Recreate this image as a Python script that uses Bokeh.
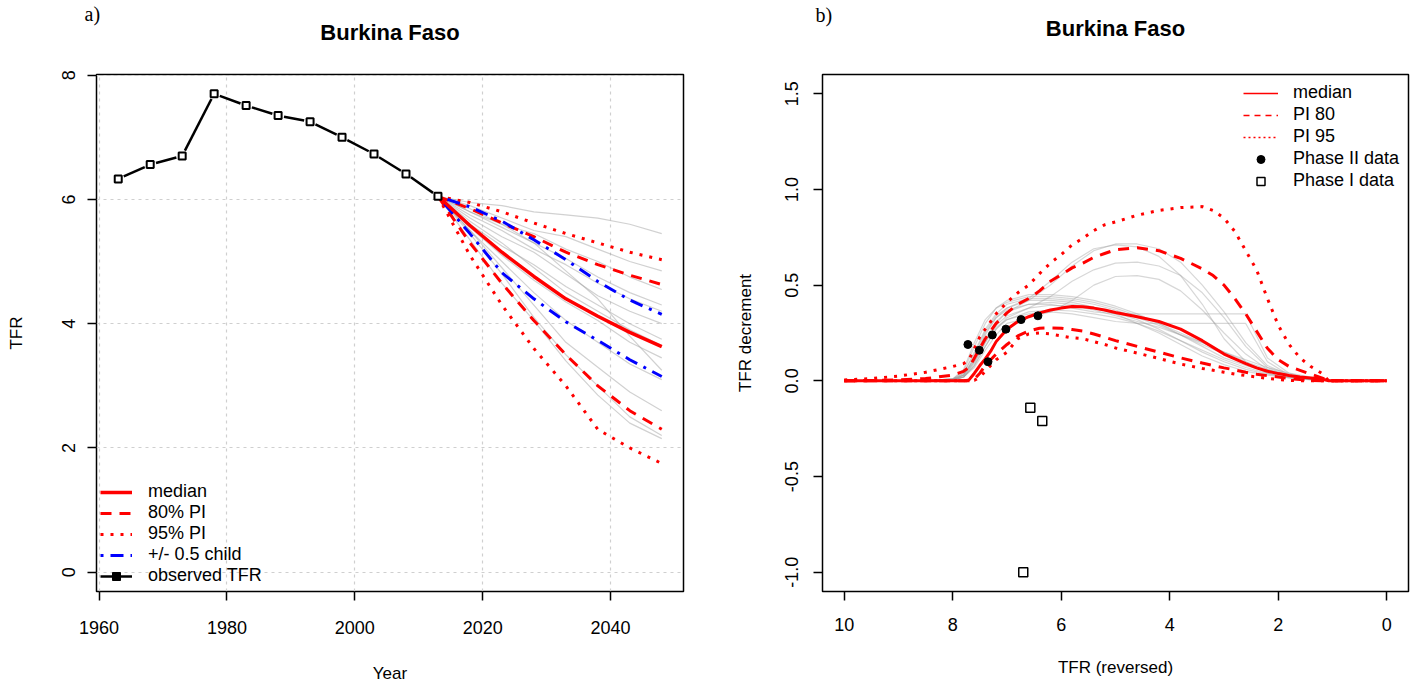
import math
from bokeh.plotting import figure
from bokeh.models import (Range1d, FixedTicker, Legend, LegendItem, Title,
                          NumeralTickFormatter)
from bokeh.layouts import row
from bokeh.embed import file_html
from bokeh.resources import INLINE

# ---------------- data: panel a) ----------------
YEARS_OBS = [1963, 1968, 1973, 1978, 1983, 1988, 1993, 1998, 2003, 2008, 2013]
TFR_OBS = [6.33, 6.56, 6.70, 7.70, 7.51, 7.35, 7.25, 7.00, 6.73, 6.41, 6.05]

YEARS_PROJ = [2013, 2018, 2023, 2028, 2033, 2038, 2043, 2048]
MEDIAN = [6.05, 5.58, 5.15, 4.76, 4.40, 4.12, 3.86, 3.63]
PI80_LOW = [6.05, 5.30, 4.65, 4.05, 3.50, 3.00, 2.60, 2.30]
PI80_HIGH = [6.05, 5.85, 5.62, 5.40, 5.15, 4.95, 4.78, 4.63]
PI95_LOW = [6.05, 5.10, 4.30, 3.60, 3.00, 2.30, 2.00, 1.75]
PI95_HIGH = [6.05, 5.95, 5.80, 5.62, 5.45, 5.30, 5.15, 5.03]
HALF_CHILD_LOW = [6.05, 5.45, 4.82, 4.40, 4.03, 3.73, 3.42, 3.15]
HALF_CHILD_HIGH = [6.05, 5.88, 5.65, 5.35, 5.03, 4.68, 4.38, 4.15]

TRAJECTORIES = [
    [6.05, 5.95, 5.90, 5.80, 5.75, 5.70, 5.60, 5.45],
    [6.05, 5.90, 5.70, 5.50, 5.40, 5.20, 5.00, 4.85],
    [6.05, 5.85, 5.60, 5.45, 5.20, 5.00, 4.75, 4.55],
    [6.05, 5.80, 5.55, 5.30, 5.05, 4.75, 4.50, 4.30],
    [6.05, 5.75, 5.50, 5.20, 4.95, 4.65, 4.40, 4.20],
    [6.05, 5.70, 5.40, 5.15, 4.80, 4.45, 4.20, 4.00],
    [6.05, 5.60, 5.25, 4.95, 4.60, 4.30, 4.00, 3.75],
    [6.05, 5.65, 5.30, 4.90, 4.50, 4.20, 3.90, 3.65],
    [6.05, 5.55, 5.10, 4.70, 4.35, 4.05, 3.70, 3.45],
    [6.05, 5.50, 5.00, 4.50, 4.05, 3.70, 3.35, 3.10],
    [6.05, 5.50, 4.90, 4.30, 3.70, 3.30, 2.90, 2.60],
    [6.05, 5.45, 4.80, 4.10, 3.50, 3.00, 2.50, 2.20],
    [6.05, 5.35, 4.65, 4.05, 3.40, 2.85, 2.40, 2.15],
    [6.05, 5.80, 5.60, 5.30, 4.85, 4.40, 3.80, 3.25],
]

# ---------------- data: panel b) ----------------
TFR_GRID = [10.0, 9.5, 9.0, 8.5, 8.0, 7.8, 7.7, 7.6, 7.5, 7.4, 7.3, 7.2, 7.0,
            6.8, 6.6, 6.4, 6.2, 6.0, 5.8, 5.6, 5.4, 5.2, 5.0, 4.6, 4.2, 3.8,
            3.4, 3.2, 3.0, 2.8, 2.6, 2.4, 2.2, 2.0, 1.8, 1.6, 1.4, 1.2, 1.07,
            1.0, 0.5, 0.0]
DEC_MEDIAN = [0, 0, 0, 0, 0, 0, 0.005, 0.04, 0.08, 0.115, 0.155, 0.205, 0.27,
              0.31, 0.335, 0.355, 0.37, 0.38, 0.388, 0.387, 0.38, 0.37, 0.357,
              0.335, 0.31, 0.27, 0.21, 0.175, 0.14, 0.115, 0.09, 0.068, 0.05,
              0.038, 0.028, 0.02, 0.015, 0.01, 0.0, 0, 0, 0]
DEC_PI80_HIGH = [0, 0.002, 0.005, 0.012, 0.03, 0.05, 0.07, 0.12, 0.17, 0.22,
                 0.26, 0.30, 0.355, 0.40, 0.43, 0.47, 0.52, 0.555, 0.59, 0.615,
                 0.645, 0.665, 0.685, 0.695, 0.68, 0.64, 0.585, 0.55, 0.50,
                 0.43, 0.35, 0.26, 0.17, 0.11, 0.075, 0.055, 0.035, 0.016, 0.0,
                 0, 0, 0]
DEC_PI95_HIGH = [0.005, 0.012, 0.025, 0.045, 0.075, 0.09, 0.11, 0.17, 0.23,
                 0.27, 0.31, 0.35, 0.41, 0.46, 0.50, 0.56, 0.615, 0.66, 0.71,
                 0.745, 0.785, 0.815, 0.83, 0.865, 0.89, 0.905, 0.91, 0.89,
                 0.85, 0.78, 0.68, 0.58, 0.43, 0.29, 0.19, 0.12, 0.075, 0.04,
                 0.0, 0, 0, 0]
DEC_PI80_LOW = [0, 0, 0, 0, 0, 0, 0, 0.01, 0.04, 0.08, 0.11, 0.14, 0.19, 0.235,
                0.26, 0.275, 0.277, 0.275, 0.268, 0.26, 0.245, 0.228, 0.21,
                0.18, 0.15, 0.12, 0.093, 0.08, 0.068, 0.057, 0.045, 0.035,
                0.027, 0.02, 0.012, 0.007, 0.003, 0.0, 0, 0, 0, 0]
DEC_PI95_LOW = [0, 0, 0, 0, 0, 0, 0, 0.003, 0.02, 0.05, 0.08, 0.11, 0.15, 0.22,
                0.245, 0.25, 0.245, 0.235, 0.225, 0.22, 0.205, 0.19, 0.172,
                0.145, 0.117, 0.088, 0.065, 0.055, 0.045, 0.035, 0.028, 0.02,
                0.013, 0.007, 0.003, 0.0, 0, 0, 0, 0, 0, 0]

GRAY_GRID = [10.0, 8.5, 8.0, 7.8, 7.6, 7.4, 7.2, 7.0, 6.6, 6.2, 5.8, 5.4, 5.0,
             4.6, 4.2, 3.8, 3.4, 3.0, 2.6, 2.2, 1.8, 1.4, 1.1, 1.0]
DEC_TRAJECTORIES = [
    [0, 0, 0.01, 0.03, 0.10, 0.20, 0.30, 0.36, 0.42, 0.50, 0.60, 0.68, 0.715, 0.715, 0.69, 0.62, 0.50, 0.36, 0.20, 0.08, 0.03, 0.01, 0.005, 0],
    [0, 0, 0.01, 0.04, 0.14, 0.26, 0.34, 0.38, 0.43, 0.52, 0.62, 0.69, 0.71, 0.70, 0.65, 0.55, 0.40, 0.22, 0.10, 0.04, 0.015, 0.005, 0.002, 0],
    [0, 0, 0.005, 0.02, 0.08, 0.18, 0.27, 0.33, 0.38, 0.44, 0.52, 0.58, 0.615, 0.62, 0.60, 0.55, 0.46, 0.33, 0.18, 0.07, 0.025, 0.01, 0.004, 0],
    [0, 0, 0.005, 0.02, 0.07, 0.16, 0.24, 0.30, 0.33, 0.36, 0.42, 0.50, 0.545, 0.55, 0.53, 0.47, 0.37, 0.25, 0.14, 0.06, 0.02, 0.008, 0.003, 0],
    [0, 0, 0.01, 0.05, 0.18, 0.30, 0.38, 0.42, 0.45, 0.45, 0.44, 0.42, 0.39, 0.35, 0.30, 0.24, 0.18, 0.12, 0.08, 0.05, 0.03, 0.015, 0.005, 0],
    [0, 0, 0.008, 0.04, 0.15, 0.27, 0.35, 0.40, 0.43, 0.43, 0.42, 0.40, 0.37, 0.33, 0.29, 0.24, 0.19, 0.14, 0.09, 0.055, 0.03, 0.015, 0.005, 0],
    [0, 0, 0.006, 0.03, 0.12, 0.24, 0.33, 0.38, 0.42, 0.42, 0.41, 0.385, 0.355, 0.32, 0.27, 0.21, 0.15, 0.10, 0.06, 0.035, 0.02, 0.01, 0.004, 0],
    [0, 0, 0.005, 0.03, 0.11, 0.22, 0.31, 0.36, 0.40, 0.41, 0.40, 0.38, 0.35, 0.30, 0.25, 0.19, 0.13, 0.085, 0.05, 0.03, 0.015, 0.007, 0.003, 0],
    [0, 0, 0.004, 0.02, 0.09, 0.20, 0.29, 0.34, 0.38, 0.395, 0.39, 0.37, 0.34, 0.31, 0.28, 0.24, 0.20, 0.15, 0.10, 0.06, 0.03, 0.01, 0.004, 0],
    [0, 0, 0.004, 0.02, 0.08, 0.18, 0.27, 0.32, 0.36, 0.37, 0.365, 0.35, 0.33, 0.30, 0.26, 0.21, 0.16, 0.11, 0.07, 0.04, 0.02, 0.008, 0.003, 0],
    [0, 0, 0.006, 0.03, 0.12, 0.25, 0.33, 0.37, 0.40, 0.40, 0.38, 0.36, 0.35, 0.35, 0.35, 0.35, 0.35, 0.35, 0.35, 0.12, 0.04, 0.01, 0.004, 0],
    [0, 0, 0.005, 0.02, 0.10, 0.21, 0.28, 0.32, 0.35, 0.36, 0.35, 0.33, 0.31, 0.30, 0.30, 0.30, 0.30, 0.30, 0.30, 0.10, 0.03, 0.01, 0.003, 0],
    [0, 0, 0.01, 0.06, 0.20, 0.32, 0.38, 0.41, 0.44, 0.44, 0.43, 0.41, 0.38, 0.34, 0.30, 0.25, 0.20, 0.15, 0.11, 0.07, 0.04, 0.02, 0.008, 0],
]

PHASE2_TFR = [7.72, 7.51, 7.35, 7.27, 7.02, 6.74, 6.43]
PHASE2_DEC = [0.19, 0.16, 0.10, 0.24, 0.27, 0.32, 0.34]
PHASE1_TFR = [6.57, 6.35, 6.70]
PHASE1_DEC = [-0.14, -0.21, -1.00]

FONT = "Liberation Sans"
SERIF = "Liberation Serif"
DASH = "11 8"
DOT = "3 7"
DASHDOT = "3 7 13 7"
NAN = float("nan")


def style(p, xticks, yticks, xlabel, ylabel, y_std, y_lab_std, x_std, x_lab_std):
    p.outline_line_color = "black"
    p.outline_line_width = 1.5
    p.background_fill_color = "white"
    p.border_fill_color = "white"
    p.xaxis.ticker = FixedTicker(ticks=xticks)
    p.yaxis.ticker = FixedTicker(ticks=yticks)
    p.xaxis.axis_label = xlabel
    p.yaxis.axis_label = ylabel
    for ax in (p.xaxis, p.yaxis):
        ax.axis_line_color = None
        ax.major_tick_line_color = "black"
        ax.major_tick_line_width = 1.5
        ax.major_tick_in = 0
        ax.major_tick_out = 9
        ax.minor_tick_line_color = None
        ax.major_label_text_font = FONT
        ax.major_label_text_font_size = "18px"
        ax.major_label_text_color = "black"
        ax.axis_label_text_font = FONT
        ax.axis_label_text_font_size = "17px"
        ax.axis_label_text_font_style = "normal"
        ax.axis_label_text_color = "black"
    p.xaxis.major_label_standoff = x_std
    p.xaxis.axis_label_standoff = x_lab_std
    p.yaxis.major_label_standoff = y_std
    p.yaxis.axis_label_standoff = y_lab_std
    p.yaxis.major_label_orientation = "vertical"


def titles(p, main, tag, tag_offset, spacer, tag_standoff):
    # stacked from the frame outward: spacer, main title, panel tag
    p.add_layout(Title(text=" ", text_font_size="1px", standoff=spacer), "above")
    p.add_layout(Title(text=main, align="center", text_font=FONT,
                       text_font_size="22px", text_font_style="bold",
                       text_color="black", standoff=0), "above")
    p.add_layout(Title(text=tag, align="left", offset=tag_offset, text_font=SERIF,
                       text_font_size="20px", text_font_style="normal",
                       text_color="black", standoff=tag_standoff), "above")


# ---------------- panel a) ----------------
X0, X1, Y0, Y1 = 1959.6, 2051.4, -0.31, 8.01
W1, H1, L1, R1, T1, B1 = 710, 685, 96, 27, 74, 88
p1 = figure(width=W1, height=H1, x_range=Range1d(X0, X1), y_range=Range1d(Y0, Y1),
            title=None, output_backend="svg", toolbar_location=None,
            min_border_left=L1, min_border_right=R1, min_border_top=T1,
            min_border_bottom=B1)
style(p1, [1960, 1980, 2000, 2020, 2040], [0, 2, 4, 6, 8], "Year", "TFR",
      12, 34, 20, 27)
p1.grid.grid_line_color = "#cfcfcf"
p1.grid.grid_line_dash = "3 4"
p1.grid.grid_line_width = 1.2
titles(p1, "Burkina Faso", "a)", -12, 27, -15)

for tr in TRAJECTORIES:
    p1.line(YEARS_PROJ, tr, line_color="#9a9a9a", line_alpha=0.45, line_width=1.2)

r_p95 = p1.line(YEARS_PROJ, PI95_LOW, line_color="red", line_width=3, line_dash=DOT)
p1.line(YEARS_PROJ, PI95_HIGH, line_color="red", line_width=3, line_dash=DOT)
r_p80 = p1.line(YEARS_PROJ, PI80_LOW, line_color="red", line_width=3, line_dash=DASH)
p1.line(YEARS_PROJ, PI80_HIGH, line_color="red", line_width=3, line_dash=DASH)
r_half = p1.line(YEARS_PROJ, HALF_CHILD_LOW, line_color="blue", line_width=3, line_dash=DASHDOT)
p1.line(YEARS_PROJ, HALF_CHILD_HIGH, line_color="blue", line_width=3, line_dash=DASHDOT)
r_med = p1.line(YEARS_PROJ, MEDIAN, line_color="red", line_width=3.5)

# observed TFR drawn like R type="b": segments with a gap around each point
fw = W1 - L1 - R1
fh = H1 - T1 - B1
sx = fw / (X1 - X0)
sy = fh / (Y1 - Y0)
gap = 6.0
sx0, sy0, sx1, sy1 = [], [], [], []
for i in range(len(YEARS_OBS) - 1):
    xa, ya, xb, yb = YEARS_OBS[i], TFR_OBS[i], YEARS_OBS[i + 1], TFR_OBS[i + 1]
    L = math.hypot((xb - xa) * sx, (yb - ya) * sy)
    if L > 2 * gap:
        f = gap / L
        sx0.append(xa + (xb - xa) * f)
        sy0.append(ya + (yb - ya) * f)
        sx1.append(xb - (xb - xa) * f)
        sy1.append(yb - (yb - ya) * f)
p1.segment(sx0, sy0, sx1, sy1, line_color="black", line_width=2.5)
p1.scatter(YEARS_OBS, TFR_OBS, marker="square", size=7, fill_color="white",
           line_color="black", line_width=2)

leg_obs_line = p1.line(x=[NAN], y=[NAN], line_color="black", line_width=2.5)
leg_obs_pt = p1.scatter(x=[NAN], y=[NAN], marker="square", size=7,
                        fill_color="black", line_color="black")
legend1 = Legend(items=[
    LegendItem(label="median", renderers=[r_med]),
    LegendItem(label="80% PI", renderers=[r_p80]),
    LegendItem(label="95% PI", renderers=[r_p95]),
    LegendItem(label="+/- 0.5 child", renderers=[r_half]),
    LegendItem(label="observed TFR", renderers=[leg_obs_line, leg_obs_pt]),
], location=(4, 5), background_fill_alpha=0, border_line_alpha=0,
    label_text_font=FONT, label_text_font_size="18px", label_text_color="black",
    glyph_width=32, glyph_height=20, label_height=20, spacing=0, padding=0,
    margin=0, label_standoff=16)
p1.add_layout(legend1)

# ---------------- panel b) ----------------
W2, H2, L2, R2, T2, B2 = 707, 685, 112, 9, 70, 93
p2 = figure(width=W2, height=H2, x_range=Range1d(10.4, -0.4), y_range=Range1d(-1.1, 1.6),
            title=None, output_backend="svg", toolbar_location=None,
            min_border_left=L2, min_border_right=R2, min_border_top=T2,
            min_border_bottom=B2)
style(p2, [0, 2, 4, 6, 8, 10], [-1.0, -0.5, 0.0, 0.5, 1.0, 1.5], "TFR (reversed)",
      "TFR decrement", 15, 28, 17, 24)
p2.yaxis.formatter = NumeralTickFormatter(format="0.0")
p2.xgrid.visible = False
p2.ygrid.visible = False
titles(p2, "Burkina Faso", "b)", -7, 31, -24)

for tr in DEC_TRAJECTORIES:
    p2.line(GRAY_GRID, tr, line_color="#9a9a9a", line_alpha=0.4, line_width=1.2)

p2.line(TFR_GRID, DEC_PI95_LOW, line_color="red", line_width=3, line_dash=DOT)
p2.line(TFR_GRID, DEC_PI95_HIGH, line_color="red", line_width=3, line_dash=DOT)
p2.line(TFR_GRID, DEC_PI80_LOW, line_color="red", line_width=3, line_dash=DASH)
p2.line(TFR_GRID, DEC_PI80_HIGH, line_color="red", line_width=3, line_dash=DASH)
p2.line(TFR_GRID, DEC_MEDIAN, line_color="red", line_width=3)

p2.scatter(PHASE2_TFR, PHASE2_DEC, marker="circle", size=8, fill_color="black",
           line_color="black")
p2.scatter(PHASE1_TFR, PHASE1_DEC, marker="square", size=9, fill_color="white",
           line_color="black", line_width=1.5)

lg_med = p2.line(x=[NAN], y=[NAN], line_color="red", line_width=1.5)
lg_80 = p2.line(x=[NAN], y=[NAN], line_color="red", line_width=1.5, line_dash="6 5")
lg_95 = p2.line(x=[NAN], y=[NAN], line_color="red", line_width=1.5, line_dash="2 3")
lg_p2 = p2.scatter(x=[NAN], y=[NAN], marker="circle", size=8, fill_color="black",
                   line_color="black")
lg_p1 = p2.scatter(x=[NAN], y=[NAN], marker="square", size=8, fill_color="white",
                   line_color="black", line_width=1.5)
legend2 = Legend(items=[
    LegendItem(label="median", renderers=[lg_med]),
    LegendItem(label="PI 80", renderers=[lg_80]),
    LegendItem(label="PI 95", renderers=[lg_95]),
    LegendItem(label="Phase II data", renderers=[lg_p2]),
    LegendItem(label="Phase I data", renderers=[lg_p1]),
], location=(421, 400), background_fill_alpha=0, border_line_alpha=0,
    label_text_font=FONT, label_text_font_size="18px", label_text_color="black",
    glyph_width=35, glyph_height=20, label_height=20, spacing=1, padding=0,
    margin=0, label_standoff=15)
p2.add_layout(legend2)

layout = row(p1, p2)
open("out.html", "w").write(file_html(layout, INLINE))
